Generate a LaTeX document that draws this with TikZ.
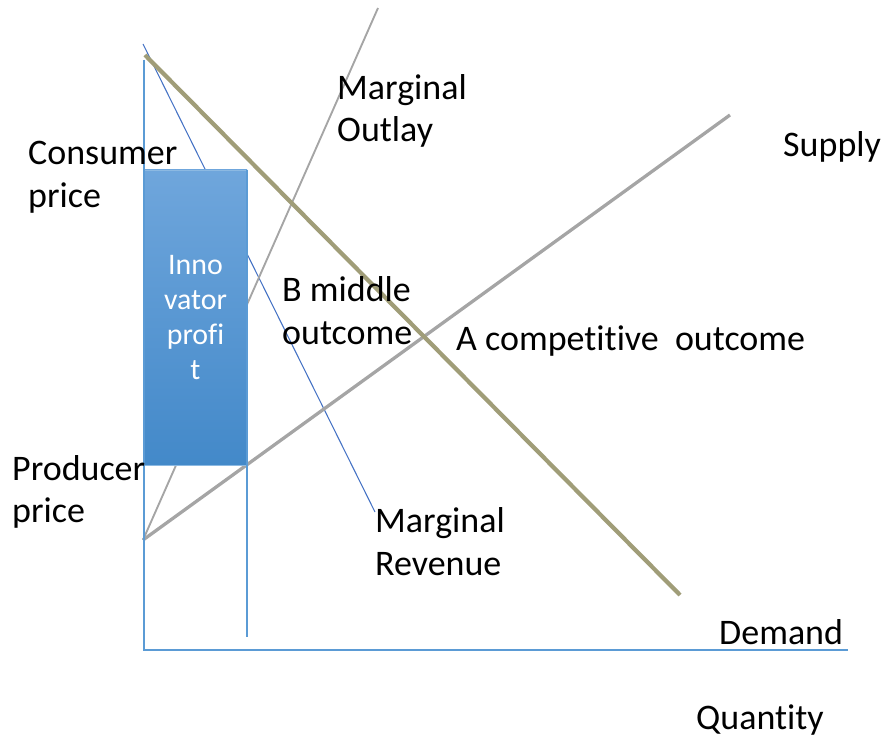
\documentclass[tikz,border=0pt]{standalone}
\usepackage{fontspec}
\setmainfont{Carlito}[Ligatures=NoCommon]
\usetikzlibrary{positioning}

\definecolor{axisblue}{HTML}{5B9BD5}
\definecolor{mrblue}{HTML}{4472C4}
\definecolor{demandolive}{HTML}{A09D78}
\definecolor{curvegray}{HTML}{A5A5A5}
\definecolor{boxtop}{HTML}{6FA6DC}
\definecolor{boxbottom}{HTML}{4389C9}

\begin{document}
\begin{tikzpicture}
  [
    x=0.03cm, y=-0.03cm,
    Label/.style={anchor=west, align=left, inner sep=0pt, font=\fontsize{30.7}{36.5}\selectfont},
    Axis/.style={draw=axisblue, line width=2.1pt},
    Demand/.style={draw=demandolive, line width=3.6pt},
    Supply/.style={draw=curvegray, line width=2.8pt},
    Outlay/.style={draw=curvegray, line width=1.6pt},
    Revenue/.style={draw=mrblue, line width=0.9pt},
    Profit/.style={draw=axisblue!70, line width=0.8pt, top color=boxtop, bottom color=boxbottom,
      minimum width=3.09cm, minimum height=8.85cm, inner sep=0pt, align=center,
      text=white, font=\fontsize{25.5}{30}\selectfont}
  ]
  \useasboundingbox (0,0) rectangle (884,738);

  % Points (x, y)
  \coordinate (o) at (144, 650);
  \coordinate (yTop) at (144, 60);
  \coordinate (xEnd) at (848, 650);
  \coordinate (qTop) at (247, 170);
  \coordinate (qBot) at (247, 637);
  \coordinate (dTop) at (145, 55);
  \coordinate (dEnd) at (680, 595);
  \coordinate (sStart) at (143, 540);
  \coordinate (sEnd) at (730, 115);
  \coordinate (moEnd) at (378, 8);
  \coordinate (mrTop) at (143, 44);
  \coordinate (mrEnd) at (375, 512);

  % Curves
  % marginal revenue
  \path [Revenue] (mrTop) -- (mrEnd);
  % marginal outlay
  \path [Outlay] (sStart) -- (moEnd);
  % supply
  \path [Supply] (sStart) -- (sEnd);
  % demand
  \path [Demand] (dTop) -- (dEnd);

  % Innovator profit
  \node[Profit] (profit) at (195.5, 317.5) {Inno\\vator\\profi\\t};

  % Axes
  \path [Axis] (yTop) -- (o) -- (xEnd);
  \path [Axis] (qTop) -- (qBot);

  % Labels
  \node[Label] (outlay) at (337, 111) {Marginal\\Outlay};
  \node[Label] (supply) at (783, 147) {Supply};
  \node[Label] (consumer) at (28, 177) {Consumer\\price};
  \node[Label] (middle) at (282, 311) {B middle\\outcome};
  \node[Label] (competitive) at (456, 341) {A competitive\ \ outcome};
  \node[Label] (producer) at (12, 492) {Producer\\price};
  \node[Label] (revenue) at (375, 542) {Marginal\\Revenue};
  \node[Label] (demand) at (719, 632) {Demand};
  \node[Label] (quantity) at (696, 720) {Quantity};
\end{tikzpicture}
\end{document}
